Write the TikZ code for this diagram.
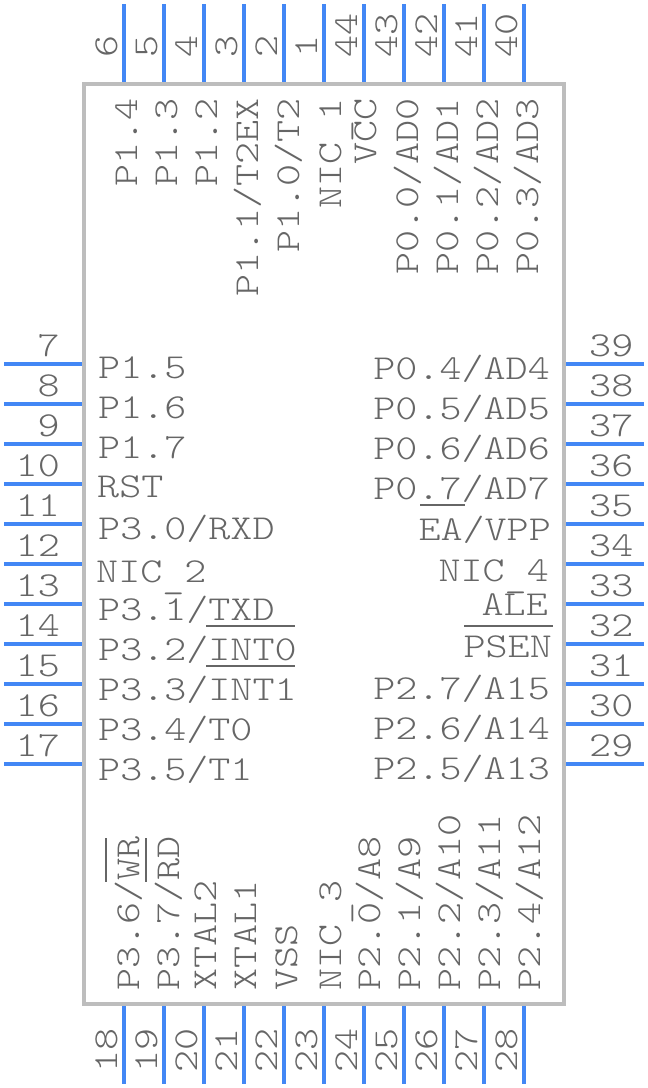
\documentclass[tikz,border=0pt]{standalone}
\usepackage{fontspec}
\newfontfamily\pinfont[FakeStretch=1.2]{Latin Modern Mono Light}

\definecolor{pinblue}{HTML}{4287F5}
\definecolor{bodygray}{HTML}{BDBDBD}
\definecolor{textgray}{HTML}{666666}

\newcommand{\undsc}{\smash{\raisebox{-6pt}{\_}}}

\tikzset{
  pinline/.style={pinblue, line width=4pt},
  lbl/.style={textgray, inner sep=0pt, font=\fontsize{35}{35}\pinfont},
  barline/.style={textgray, line width=2pt},
}

\begin{document}
\begin{tikzpicture}[x=1pt, y=-1pt]
\useasboundingbox (0,0) rectangle (648,1088);

% Body
\draw[bodygray, line width=4pt] (84,84) rectangle (564,1004);

% Pins
\foreach \x/\n in {124/6,164/5,204/4,244/3,284/2,324/1,364/44,404/43,444/42,484/41,524/40} {
  \draw[pinline] (\x,4) -- (\x,82);
  \node[lbl, rotate=90, anchor=base west] (pin\n) at (\x-7,58) {\n};
}
\foreach \x/\n in {124/18,164/19,204/20,244/21,284/22,324/23,364/24,404/25,444/26,484/27,524/28} {
  \draw[pinline] (\x,1006) -- (\x,1084);
  \node[lbl, rotate=90, anchor=base east] (pin\n) at (\x-7,1028) {\n};
}
\foreach \y/\n in {364/7,404/8,444/9,484/10,524/11,564/12,604/13,644/14,684/15,724/16,764/17} {
  \draw[pinline] (4,\y) -- (82,\y);
  \node[lbl, anchor=base east] (pin\n) at (60,\y-8) {\n};
}
\foreach \y/\n in {364/39,404/38,444/37,484/36,524/35,564/34,604/33,644/32,684/31,724/30,764/29} {
  \draw[pinline] (566,\y) -- (644,\y);
  \node[lbl, anchor=base west] (pin\n) at (589,\y-8) {\n};
}

% Left labels
\foreach \y/\xa/\t in {378/98/P1.5,418/98/P1.6,458/98/P1.7,497/97/RST,539/98/{P3.0/RXD},582/96/{NIC\undsc 2},620/98/{P3.1/TXD},660/98/{P3.2/INT0},700/98/{P3.3/INT1},740/98/{P3.4/T0},780/98/{P3.5/T1}}
  \node[lbl, anchor=base west] (left\y) at (\xa,\y) {\t};

% Right labels
\foreach \y/\xa/\t in {379/550/{P0.4/AD4},419/550/{P0.5/AD5},459/550/{P0.6/AD6},499/550/{P0.7/AD7},540/551/{EA/VPP},581/549/{NIC\undsc 4},615/548/ALE,657/552/PSEN,699/550/{P2.7/A15},739/550/{P2.6/A14},779/550/{P2.5/A13}}
  \node[lbl, anchor=base east] (right\y) at (\xa,\y) {\t};

% Top labels
\foreach \x/\t in {137/P1.4,177/P1.3,217/P1.2,258/{P1.1/T2EX},299/{P1.0/T2},341/{NIC\undsc 1},376/VCC,418/{P0.0/AD0},458/{P0.1/AD1},498/{P0.2/AD2},538/{P0.3/AD3}}
  \node[lbl, rotate=90, anchor=base east] (top\x) at (\x,98) {\t};

% Bottom labels
\foreach \x/\t in {139/{P3.6/WR},179/{P3.7/RD},216/XTAL2,256/XTAL1,297/VSS,341/{NIC\undsc 3},380/{P2.0/A8},420/{P2.1/A9},460/{P2.2/A10},500/{P2.3/A11},540/{P2.4/A12}}
  \node[lbl, rotate=90, anchor=base west] (bot\x) at (\x,991) {\t};

% Overbars
\draw[barline] (206,626) -- (295,626);
\draw[barline] (206,666) -- (295,666);
\draw[barline] (420,505) -- (465,505);
\draw[barline] (464,626) -- (553,626);
\draw[barline] (106,838) -- (106,882);
\draw[barline] (146,838) -- (146,882);

\end{tikzpicture}
\end{document}
